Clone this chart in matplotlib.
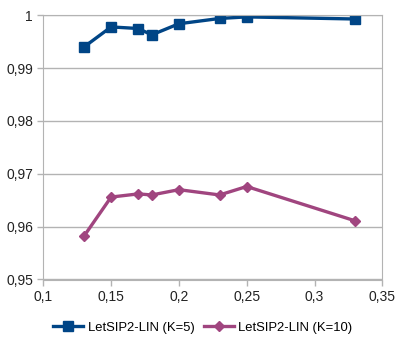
import matplotlib.pyplot as plt
from matplotlib.ticker import FuncFormatter

plt.rcParams['font.family'] = ['Liberation Sans', 'DejaVu Sans']

x = [0.13, 0.15, 0.17, 0.18, 0.2, 0.23, 0.25, 0.33]
k5 = [0.9940, 0.9978, 0.9975, 0.9963, 0.9984, 0.9994, 0.9997, 0.9993]
k10 = [0.9582, 0.9656, 0.9662, 0.9660, 0.9670, 0.9660, 0.9676, 0.9611]
xticks = [0.1, 0.15, 0.2, 0.25, 0.3, 0.35]
yticks = [0.95, 0.96, 0.97, 0.98, 0.99, 1.0]

W, H = 403, 340
fig = plt.figure(figsize=(W / 100, H / 100), dpi=100)
ax = fig.add_axes([43.3 / W, 1 - 279.5 / H, (382.3 - 43.3) / W, (279.5 - 15.3) / H])

ax.plot(x, k5, '-s', color='#004586', lw=2.4, ms=7, label='LetSIP2-LIN (K=5)')
ax.plot(x, k10, '-D', color='#a0457f', lw=2.4, ms=5.5, label='LetSIP2-LIN (K=10)')

ax.set_xlim(0.1, 0.35)
ax.set_ylim(0.95, 1.0)
ax.set_xticks(xticks)
ax.set_yticks(yticks)


def comma(v, pos):
    s = ('%.2f' % v).rstrip('0').rstrip('.')
    return s.replace('.', ',')


ax.xaxis.set_major_formatter(FuncFormatter(comma))
ax.yaxis.set_major_formatter(FuncFormatter(comma))
ax.grid(axis='y', color='#b3b3b3', lw=1)
ax.set_axisbelow(True)
for s in ax.spines.values():
    s.set_color('#b3b3b3')
ax.tick_params(colors='#b3b3b3', labelcolor='#222222', labelsize=10, length=4, width=1)

ax.legend(loc='upper center', bbox_to_anchor=(0.5 - 10 / 339, -0.115), ncol=2, frameon=False,
          fontsize=9.4, handlelength=2.3, columnspacing=0.7, handletextpad=0.35)

fig.savefig('out.png', dpi=100)
